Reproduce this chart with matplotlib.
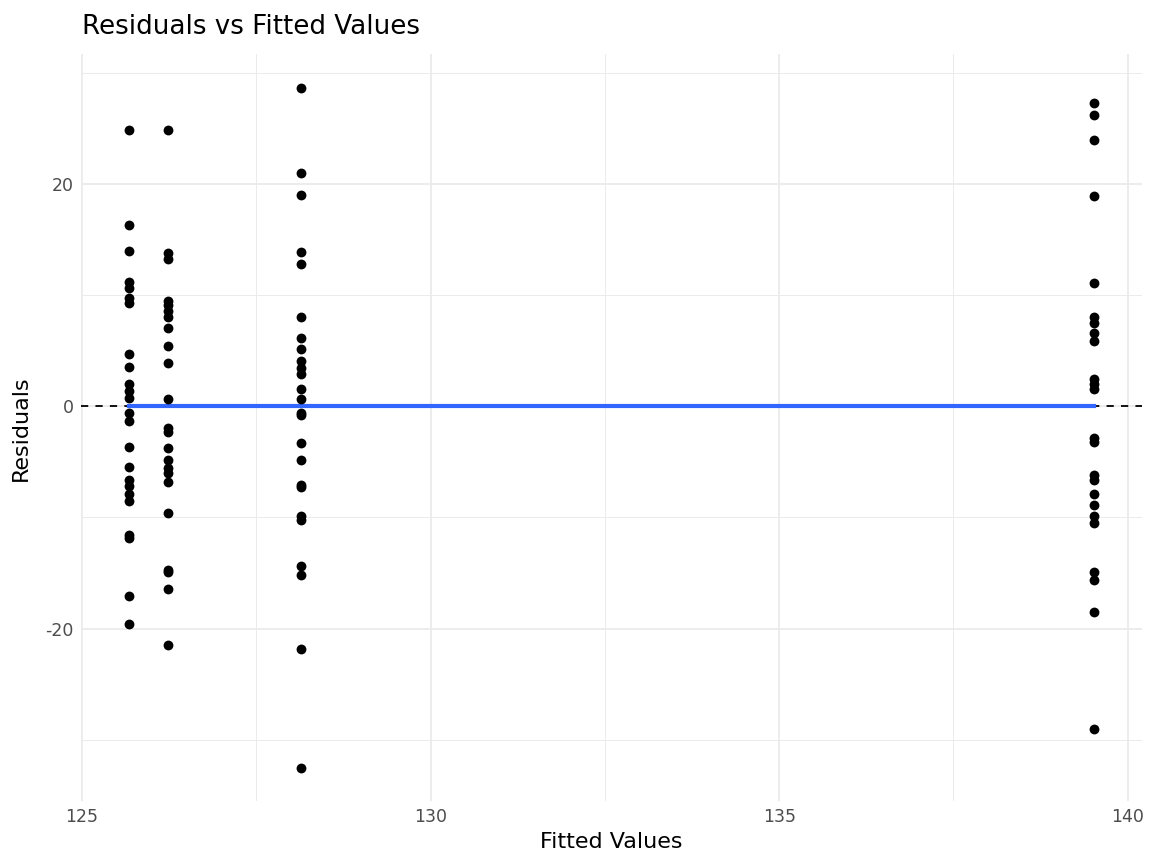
import matplotlib
matplotlib.use("Agg")
import matplotlib.pyplot as plt
import numpy as np

plt.rcParams['font.family'] = ['DejaVu Sans']
plt.rcParams['axes.unicode_minus'] = False

# fitted value of each group and the residuals
fitted = [125.67, 126.23, 128.14, 139.51]
res_1 = [24.8, 16.3, 14.0, 11.2, 10.6, 9.7, 9.3, 4.7, 3.5, 2.0, 1.4, 0.7,
         -0.6, -1.3, -3.7, -5.5, -6.6, -7.2, -7.9, -8.5, -11.6, -11.9, -17.1, -19.6]
res_2 = [24.8, 13.8, 13.2, 9.5, 9.1, 8.6, 8.0, 7.0, 5.4, 3.9, 0.6,
         -2.0, -2.3, -3.8, -4.8, -5.6, -6.0, -6.8, -9.6, -14.7, -14.9, -16.4, -21.5]
res_3 = [28.6, 21.0, 19.0, 13.9, 12.8, 8.0, 6.1, 5.1, 4.1, 3.4, 2.9, 1.5, 0.6,
         -0.6, -0.8, -3.3, -4.8, -7.1, -7.3, -9.9, -10.2, -14.4, -15.2, -21.8, -32.5]
res_4 = [27.3, 26.2, 23.9, 18.9, 11.1, 8.0, 7.5, 6.6, 5.9, 2.4, 2.0, 1.5,
         -2.9, -3.2, -6.2, -6.6, -7.9, -8.9, -9.9, -10.5, -14.9, -15.6, -18.5, -29.0]
groups = [res_1, res_2, res_3, res_4]
# lm of residuals on fitted values: intercept and slope are zero
fit_coef = [0.0, 0.0]

x = np.concatenate([[f] * len(r) for f, r in zip(fitted, groups)])
y = np.concatenate(groups)

fig = plt.figure(figsize=(11.51, 8.55), dpi=100)
ax = fig.add_axes([0.070, 0.0626, 0.922, 0.874])

xr = x.max() - x.min()
yr = y.max() - y.min()
ax.set_xlim(x.min() - 0.05 * xr, x.max() + 0.05 * xr)
ax.set_ylim(y.min() - 0.05 * yr, y.max() + 0.05 * yr)

ax.set_xticks([125, 130, 135, 140])
ax.set_yticks([-20, 0, 20])
ax.set_xticks([127.5, 132.5, 137.5], minor=True)
ax.set_yticks([-30, -10, 10, 30], minor=True)
ax.grid(True, which='major', color='#EBEBEB', linewidth=1.3)
ax.grid(True, which='minor', color='#EBEBEB', linewidth=0.7)
ax.set_axisbelow(True)
for s in ax.spines.values():
    s.set_visible(False)
ax.tick_params(which='both', length=0, labelsize=12.5, labelcolor='#4D4D4D', pad=5)

ax.axhline(0, color='black', linestyle=(0, (4, 4)), linewidth=1.3, zorder=2)
xs = np.array([x.min(), x.max()])
ax.plot(xs, fit_coef[0] + fit_coef[1] * xs, color='#3366FF', linewidth=3, zorder=3)
ax.scatter(x, y, s=50, color='black', zorder=4, linewidths=0)

ax.set_xlabel('Fitted Values', fontsize=16, labelpad=4)
ax.set_ylabel('Residuals', fontsize=16, labelpad=10)
fig.text(0.071, 0.968, 'Residuals vs Fitted Values', fontsize=18.8, va='center', ha='left')

fig.savefig('out.png', dpi=100)
